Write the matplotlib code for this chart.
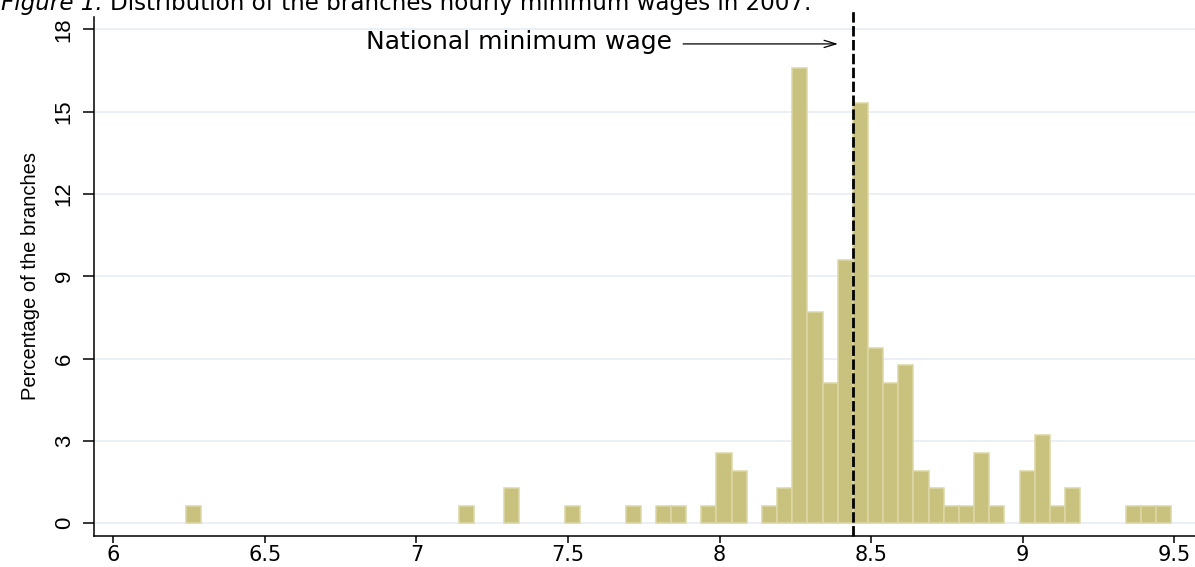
import matplotlib
matplotlib.use("Agg")
import matplotlib.pyplot as plt
from matplotlib import font_manager as fm

# ---------------- data ----------------
bin_left = [6.24, 7.14, 7.29, 7.49, 7.69, 7.79, 7.84, 7.94, 7.99, 8.04, 8.14, 8.19,
            8.24, 8.29, 8.34, 8.39, 8.44, 8.49, 8.54, 8.59, 8.64, 8.69, 8.74, 8.79,
            8.84, 8.89, 8.99, 9.04, 9.09, 9.14, 9.34, 9.39, 9.44]
percent = [0.64, 0.64, 1.28, 0.64, 0.64, 0.64, 0.64, 0.64, 2.56, 1.92, 0.64, 1.28,
           16.6, 7.69, 5.13, 9.6, 15.33, 6.4, 5.13, 5.77, 1.92, 1.28, 0.64, 0.64,
           2.56, 0.64, 1.92, 3.2, 0.64, 1.28, 0.64, 0.64, 0.64]
bin_width = 0.05
national_min_wage = 8.44
x_ticks = [6, 6.5, 7, 7.5, 8, 8.5, 9, 9.5]
x_tick_labels = ["6", "6.5", "7", "7.5", "8", "8.5", "9", "9.5"]
y_ticks = [0, 3, 6, 9, 12, 15, 18]
y_tick_labels = ["0", "3", "6", "9", "12", "15", "18"]
title_prefix = "Figure 1."
title_text = "Distribution of the branches hourly minimum wages in 2007."
y_label = "Percentage of the branches"
annotation = "National minimum wage"

# ---------------- fonts ----------------
names = {f.name for f in fm.fontManager.ttflist}
if "Liberation Sans Narrow" in names:
    narrow_family = "Liberation Sans Narrow"
    narrow_scale = 1.0
else:
    narrow_family = "Liberation Sans"
    narrow_scale = 0.84

plt.rcParams["lines.scale_dashes"] = False

W, H = 1195, 567
fig = plt.figure(figsize=(W / 100, H / 100), dpi=100)
ax = fig.add_axes([94.3 / W, 1 - 536 / H, (W - 94.3) / W, (536 - 16.7) / H])

ax.set_xlim(5.937, 9.569)
ax.set_ylim(-0.463, 18.462)

# gridlines
for yv in y_ticks:
    ax.axhline(yv, color="#E6EEF3", lw=1.2, zorder=0)

ax.bar(bin_left, percent, width=bin_width, align="edge",
       color="#C9C27F", edgecolor="#DCD7A5", linewidth=1.1, zorder=2)

# national minimum wage dashed line
ax.plot([national_min_wage, national_min_wage], [-0.463, 18.71], color="black",
        lw=2.0, dashes=(7.5, 2.5), clip_on=False, zorder=4)

# annotation text + arrow
ax.text(7.843, 17.285, annotation, ha="right", va="baseline",
        fontsize=18, family="DejaVu Sans", color="black", zorder=5)
ax.annotate("", xy=(8.391, 17.47), xytext=(7.88, 17.47),
            arrowprops=dict(arrowstyle="->,head_length=0.85,head_width=0.26",
                            lw=0.9, color="black", shrinkA=0, shrinkB=0),
            zorder=5)

# axes styling
for s in ["top", "right"]:
    ax.spines[s].set_visible(False)
for s in ["left", "bottom"]:
    ax.spines[s].set_linewidth(1.1)
    ax.spines[s].set_color("black")

ax.set_xticks(x_ticks)
ax.set_xticklabels(x_tick_labels, fontsize=15, family="DejaVu Sans")
ax.set_yticks(y_ticks)
ax.set_yticklabels(y_tick_labels, fontsize=19 * narrow_scale, family=narrow_family,
                   rotation=90, va="center")
ax.tick_params(axis="x", length=5, width=1.1, pad=1.5, direction="out")
ax.tick_params(axis="y", length=8, width=1.1, pad=6, direction="out")

ax.set_ylabel(y_label, fontsize=17.3 * narrow_scale, family=narrow_family)
ax.yaxis.set_label_coords(-0.0493, 0.5)

# cropped caption at the top (the reference crops its upper half)
title_start_px = 110
title_end_px = 812
baseline_px = 10
t_main = fig.text(title_start_px / W, 1 - baseline_px / H, title_text, ha="left",
                  va="baseline", fontsize=17, family="DejaVu Sans", color="black")
fig.canvas.draw()
r = fig.canvas.get_renderer()
wpx = t_main.get_window_extent(r).width
fs = 17 * (title_end_px - title_start_px) / wpx
t_main.set_fontsize(fs)
space_px = 0.32 * fs * 100 / 72
fig.text((title_start_px - space_px) / W, 1 - baseline_px / H, title_prefix,
         ha="right", va="baseline", fontsize=fs, family="DejaVu Sans",
         style="italic", color="black")

fig.savefig("out.png", dpi=100, facecolor="white")
